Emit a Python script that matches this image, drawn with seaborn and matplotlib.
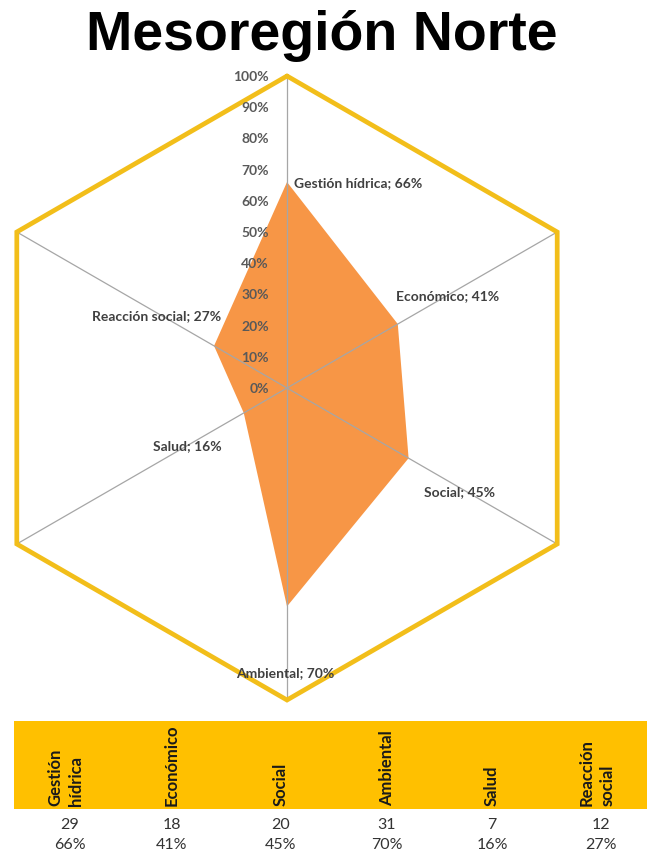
import numpy as np
import matplotlib
matplotlib.use("Agg")
import matplotlib.pyplot as plt
from matplotlib.patches import Rectangle
import seaborn as sns

# Dimensions of the radar, clockwise from the top
categories = ["Gestión hídrica", "Económico", "Social", "Ambiental", "Salud", "Reacción social"]
header_labels = ["Gestión\nhídrica", "Económico", "Social", "Ambiental", "Salud", "Reacción\nsocial"]
counts = [29, 18, 20, 31, 7, 12]
shares = [66, 41, 45, 70, 16, 27]          # percent
radial_ticks = [0, 10, 20, 30, 40, 50, 60, 70, 80, 90, 100]

sns.set_theme(style="white")
plt.rcParams["font.family"] = ["Lato", "DejaVu Sans"]

GOLD = "#F2BE1A"
ORANGE = "#F79646"
SPOKE = "#A6A6A6"
LABEL = "#404040"

W, H = 647, 854
fig = plt.figure(figsize=(W / 100, H / 100), dpi=100)

# Title
fig.text(0.497, 1 - 36 / H, "Mesoregión Norte", ha="center", va="center",
         fontsize=40, fontweight="bold", family="Liberation Sans", color="black")

# ---- radar panel (unit radius = 100 %) ----
R_PX = 312.0
cx, cy = 287.0, 389.0
top_px, bot_px = 60.0, 712.0
ax = fig.add_axes([0, (H - bot_px) / H, 1, (bot_px - top_px) / H])
ax.set_xlim(-cx / R_PX, (W - cx) / R_PX)
ax.set_ylim((cy - bot_px) / R_PX, (cy - top_px) / R_PX)
ax.axis("off")

n = len(categories)
angles = np.arange(n) * 2 * np.pi / n        # clockwise from north
ux, uy = np.sin(angles), np.cos(angles)

r = np.array(shares) / 100.0
ax.fill(r * ux, r * uy, color=ORANGE, lw=0, zorder=1)

for x, y in zip(ux, uy):
    ax.plot([0, x], [0, y], color=SPOKE, lw=0.9, zorder=2)

hx = np.append(ux, ux[0])
hy = np.append(uy, uy[0])
ax.plot(hx, hy, color=GOLD, lw=3.4, solid_joinstyle="miter", zorder=3)

for t in radial_ticks:
    ax.annotate(f"{t}%", (0, t / 100), xytext=(-13, 0), textcoords="offset points",
                ha="right", va="center", fontsize=10, fontweight="bold", color="#595959")

# data labels: offsets (points) and alignment per dimension
label_style = [((5, 0), "left", "center"),
               ((-1.5, 21), "left", "center"),
               ((11, -24), "left", "center"),
               ((-1.5, -47), "center", "center"),
               ((-16, -23), "right", "center"),
               ((5, 22), "right", "center")]
for i, (cat, v) in enumerate(zip(categories, shares)):
    off, ha, va = label_style[i]
    ax.annotate(f"{cat}; {v}%", (v / 100 * ux[i], v / 100 * uy[i]), xytext=off,
                textcoords="offset points", ha=ha, va=va, fontsize=10,
                fontweight="bold", color=LABEL, zorder=5)

# ---- summary table ----
tax = fig.add_axes([0, 0, 1, 1])
tax.set_xlim(0, W)
tax.set_ylim(H, 0)
tax.axis("off")
tax.add_patch(Rectangle((14, 722), W - 14, 88, color="#FFC000", lw=0))
col_x = [66, 172, 281, 387, 492, 597]
for x, lab, c, s in zip(col_x, header_labels, counts, shares):
    tax.text(x, 806, lab, rotation=90, ha="center", va="bottom", multialignment="left",
             fontsize=12, fontweight="bold", color="#1a1a1a", linespacing=1.35)
    tax.text(x + 4 if "\n" in lab else x, 825, f"{c}", ha="center", va="center",
             fontsize=11.5, color="#333333")
    tax.text(x + 4 if "\n" in lab else x, 845, f"{s}%", ha="center", va="center",
             fontsize=11.5, color="#333333")

fig.savefig("out.png", dpi=100)
